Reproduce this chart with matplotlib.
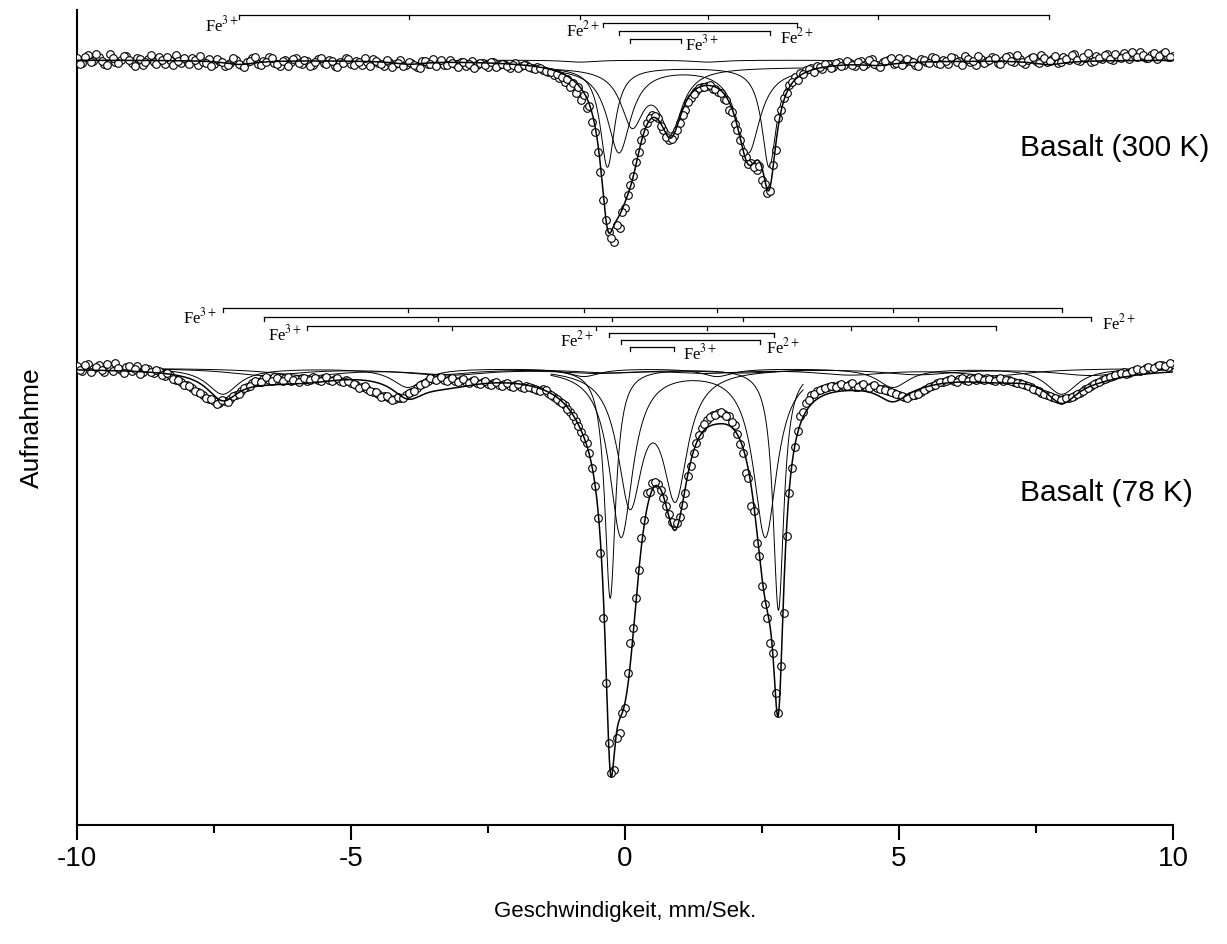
import numpy as np
import matplotlib
matplotlib.use("Agg")
import matplotlib.pyplot as plt

plt.rcParams['font.family'] = ['Liberation Sans', 'DejaVu Sans']
plt.rcParams['mathtext.fontset'] = 'stix'

# ---------------- data ----------------
# velocity channels, mm/s (two interleaved halves of the folded spectrum)
velocity_a = np.round(np.arange(-10.0, 10.0001, 0.1), 2)
velocity_b = np.round(np.arange(-9.95, 9.9601, 0.1), 2)

# relative transmission (%) - Basalt 300 K
trans_300K_a = [
    100.02, 99.97, 100.05, 99.99, 100.03, 99.96, 100.06, 99.98, 100.00, 100.04,
    99.97, 100.02, 99.95, 100.01, 99.98, 100.03, 99.96, 100.00, 100.05, 99.97,
    99.99, 100.02, 99.95, 99.98, 100.01, 99.96, 99.99, 99.94, 99.97, 100.00,
    99.95, 99.98, 100.02, 99.96, 99.99, 100.03, 99.97, 99.94, 100.00, 99.98,
    100.02, 99.96, 99.99, 99.95, 100.01, 99.97, 100.00, 99.94, 99.98, 100.02,
    99.96, 99.99, 99.95, 99.98, 100.01, 99.97, 99.94, 99.98, 99.96, 100.00,
    99.95, 99.97, 99.93, 99.99, 99.96, 100.01, 99.97, 99.95, 100.00, 99.96,
    99.98, 99.94, 99.99, 99.95, 99.97, 99.93, 99.98, 99.95, 99.96, 99.92,
    99.97, 99.94, 99.95, 99.92, 99.93, 99.90, 99.88, 99.85, 99.82, 99.78,
    99.73, 99.67, 99.60, 99.52, 99.38, 99.08, 98.60, 98.28, 98.18, 98.32,
    98.52, 98.75, 98.98, 99.20, 99.37, 99.45, 99.42, 99.30, 99.20, 99.24,
    99.37, 99.50, 99.62, 99.69, 99.73, 99.74, 99.71, 99.68, 99.61, 99.50,
    99.36, 99.20, 99.03, 98.97, 98.90, 98.80, 98.67, 98.95, 99.42, 99.62,
    99.75, 99.83, 99.87, 99.90, 99.92, 99.94, 99.91, 99.96, 99.93, 99.98,
    99.95, 99.97, 99.94, 99.99, 99.96, 100.01, 99.95, 99.98, 100.00, 99.96,
    100.02, 99.97, 99.99, 99.95, 100.01, 99.98, 100.03, 99.97, 100.00, 99.96,
    100.02, 99.99, 100.04, 99.98, 99.95, 100.01, 99.99, 100.03, 99.97, 100.00,
    100.04, 99.98, 100.01, 99.96, 100.02, 99.99, 100.05, 99.98, 100.01, 99.97,
    100.03, 100.00, 100.06, 99.99, 100.02, 99.98, 100.04, 100.01, 100.06, 100.00,
    100.03, 100.07, 100.01, 100.04, 100.08, 100.02, 100.05, 100.01, 100.06, 100.03,
    100.04,
]
trans_300K_b = [
    99.96, 100.03, 99.98, 100.06, 99.99, 99.95, 100.02, 99.97, 100.04, 100.00,
    99.94, 100.01, 99.98, 100.05, 99.96, 100.00, 100.03, 99.95, 99.99, 100.02,
    99.96, 100.00, 100.04, 99.97, 99.94, 100.01, 99.98, 99.95, 100.02, 99.96,
    99.93, 99.99, 100.03, 99.95, 99.98, 100.02, 99.96, 99.99, 99.94, 100.01,
    99.97, 100.00, 99.94, 99.98, 100.02, 99.96, 99.99, 99.93, 99.97, 100.01,
    99.95, 99.98, 100.02, 99.94, 99.99, 99.96, 100.00, 99.93, 99.97, 99.94,
    99.98, 99.95, 99.92, 99.99, 99.96, 99.94, 100.00, 99.95, 99.97, 99.93,
    99.98, 99.96, 99.92, 99.97, 99.95, 99.98, 99.93, 99.96, 99.94, 99.95,
    99.92, 99.95, 99.93, 99.91, 99.92, 99.89, 99.88, 99.86, 99.83, 99.81,
    99.77, 99.73, 99.65, 99.54, 99.28, 98.88, 98.40, 98.22, 98.35, 98.48,
    98.65, 98.84, 99.08, 99.28, 99.42, 99.44, 99.34, 99.23, 99.21, 99.30,
    99.45, 99.58, 99.66, 99.72, 99.73, 99.75, 99.71, 99.67, 99.60, 99.48,
    99.30, 99.08, 98.96, 98.93, 98.94, 98.76, 98.69, 99.10, 99.50, 99.67,
    99.78, 99.80, 99.86, 99.91, 99.88, 99.93, 99.96, 99.92, 99.97, 99.94,
    99.99, 99.95, 99.98, 99.94, 100.00, 99.96, 99.93, 99.99, 100.02, 99.97,
    99.95, 100.01, 99.98, 99.94, 100.00, 99.97, 100.02, 99.96, 99.99, 100.03,
    99.98, 99.95, 100.01, 99.99, 100.04, 99.97, 100.00, 100.02, 99.96, 100.03,
    99.99, 100.05, 99.98, 100.00, 100.03, 99.97, 100.02, 99.99, 100.04, 99.98,
    100.01, 100.05, 100.00, 100.03, 100.07, 99.99, 100.02, 100.05, 100.01, 100.06,
    100.02, 100.04, 100.08, 100.03, 100.05, 100.02, 100.07, 100.04, 100.08, 100.03,
]

# relative transmission (%) - Basalt 78 K
trans_78K_a = [
    100.02, 99.97, 100.04, 99.99, 100.03, 99.96, 100.00, 100.05, 99.98, 100.01,
    99.97, 100.02, 99.96, 99.99, 99.95, 99.97, 99.92, 99.93, 99.88, 99.86,
    99.83, 99.80, 99.76, 99.73, 99.69, 99.67, 99.65, 99.67, 99.69, 99.73,
    99.77, 99.81, 99.85, 99.86, 99.89, 99.88, 99.91, 99.88, 99.90, 99.87,
    99.89, 99.90, 99.87, 99.91, 99.88, 99.90, 99.88, 99.89, 99.87, 99.88,
    99.85, 99.83, 99.81, 99.79, 99.76, 99.74, 99.72, 99.70, 99.69, 99.70,
    99.73, 99.76, 99.80, 99.84, 99.87, 99.89, 99.90, 99.88, 99.89, 99.87,
    99.88, 99.86, 99.87, 99.85, 99.86, 99.84, 99.85, 99.83, 99.84, 99.82,
    99.83, 99.81, 99.82, 99.80, 99.78, 99.79, 99.75, 99.71, 99.67, 99.63,
    99.56, 99.47, 99.36, 99.25, 99.00, 98.50, 97.50, 96.25, 95.98, 96.35,
    96.60, 97.25, 97.70, 98.30, 98.75, 98.85, 98.84, 98.70, 98.54, 98.45,
    98.51, 98.75, 99.02, 99.25, 99.40, 99.48, 99.53, 99.55, 99.54, 99.52,
    99.43, 99.24, 98.95, 98.62, 98.25, 97.82, 97.50, 97.15, 96.55, 97.55,
    98.75, 99.21, 99.52, 99.65, 99.73, 99.77, 99.79, 99.81, 99.82, 99.83,
    99.82, 99.84, 99.81, 99.83, 99.81, 99.82, 99.80, 99.79, 99.77, 99.75,
    99.73, 99.71, 99.72, 99.73, 99.76, 99.79, 99.82, 99.85, 99.86, 99.88,
    99.87, 99.89, 99.88, 99.90, 99.88, 99.89, 99.90, 99.88, 99.89, 99.87,
    99.88, 99.86, 99.85, 99.83, 99.81, 99.78, 99.75, 99.73, 99.71, 99.69,
    99.69, 99.70, 99.72, 99.75, 99.79, 99.82, 99.85, 99.88, 99.90, 99.92,
    99.94, 99.96, 99.95, 99.98, 99.97, 100.00, 99.99, 100.02, 100.03, 100.01,
    100.04,
]
trans_78K_b = [
    99.98, 100.03, 99.96, 100.01, 99.98, 100.04, 99.97, 100.00, 99.95, 100.02,
    99.99, 99.94, 100.00, 99.96, 99.98, 99.93, 99.95, 99.89, 99.88, 99.83,
    99.82, 99.77, 99.75, 99.70, 99.69, 99.64, 99.68, 99.66, 99.72, 99.74,
    99.80, 99.82, 99.87, 99.86, 99.91, 99.87, 99.90, 99.87, 99.91, 99.88,
    99.86, 99.90, 99.88, 99.90, 99.87, 99.91, 99.87, 99.90, 99.86, 99.87,
    99.84, 99.80, 99.82, 99.77, 99.76, 99.71, 99.72, 99.68, 99.71, 99.70,
    99.75, 99.77, 99.83, 99.85, 99.90, 99.88, 99.91, 99.87, 99.90, 99.86,
    99.89, 99.85, 99.88, 99.84, 99.87, 99.83, 99.86, 99.82, 99.85, 99.81,
    99.84, 99.80, 99.81, 99.79, 99.77, 99.78, 99.73, 99.69, 99.65, 99.59,
    99.52, 99.42, 99.30, 99.15, 98.82, 98.15, 96.85, 95.95, 96.30, 96.55,
    96.95, 97.40, 97.98, 98.48, 98.76, 98.86, 98.78, 98.62, 98.46, 98.45,
    98.63, 98.92, 99.15, 99.33, 99.44, 99.51, 99.53, 99.56, 99.52, 99.46,
    99.34, 99.15, 98.90, 98.57, 98.12, 97.64, 97.25, 96.75, 97.02, 98.32,
    99.00, 99.37, 99.56, 99.68, 99.74, 99.78, 99.80, 99.82, 99.81, 99.84,
    99.82, 99.85, 99.81, 99.84, 99.80, 99.83, 99.79, 99.78, 99.76, 99.74,
    99.72, 99.70, 99.73, 99.74, 99.78, 99.81, 99.83, 99.86, 99.87, 99.89,
    99.86, 99.90, 99.87, 99.89, 99.91, 99.88, 99.89, 99.87, 99.90, 99.88,
    99.87, 99.85, 99.84, 99.82, 99.79, 99.77, 99.74, 99.72, 99.70, 99.68,
    99.70, 99.71, 99.74, 99.77, 99.80, 99.84, 99.86, 99.89, 99.91, 99.93,
    99.95, 99.94, 99.97, 99.99, 99.98, 100.01, 100.00, 100.03, 100.02, 100.05,
]

# fitted subspectra: line positions (mm/s), depths (%), half widths (mm/s)
# 300 K
olv_300_pos, olv_300_depth, olv_300_hw = [-0.32, 2.63], [1.00, 1.00], 0.16
pyx_300_pos, pyx_300_depth, pyx_300_hw = [-0.11, 2.25], [0.85, 0.85], 0.26
fe3d_300_pos, fe3d_300_depth, fe3d_300_hw = [0.13, 0.84], [0.55, 0.60], 0.25
fe3s_300_pos = [-7.04, -3.94, -0.82, 1.51, 4.62, 7.74]
fe3s_300_depth = [0.04, 0.03, 0.02, 0.02, 0.03, 0.04]
fe3s_300_hw = 0.35
# 78 K
olv_78_pos, olv_78_depth, olv_78_hw = [-0.27, 2.80], [2.30, 2.42], 0.12
pyx_78_pos, pyx_78_depth, pyx_78_hw = [-0.07, 2.56], [1.68, 1.68], 0.26
fe3d_78_pos, fe3d_78_depth, fe3d_78_hw = [0.09, 0.92], [1.30, 1.22], 0.27
sxa_78_pos = [-7.34, -3.96, -0.75, 1.68, 4.89, 7.97]
sxa_78_depth = [0.26, 0.19, 0.08, 0.08, 0.19, 0.26]
sxa_78_hw = 0.35
sxb_78_pos = [-6.59, -3.41, -0.24, 2.15, 5.35, 8.50]
sxb_78_depth = [0.07, 0.06, 0.04, 0.04, 0.06, 0.07]
sxb_78_hw = 0.8
sxc_78_pos = [-5.80, -3.16, -0.53, 1.50, 4.12, 6.77]
sxc_78_depth = [0.07, 0.06, 0.04, 0.04, 0.06, 0.07]
sxc_78_hw = 0.8

# stick diagrams (line positions, mm/s)
bar_300 = [
    ([-7.04, -3.94, -0.82, 1.51, 4.62, 7.74], r'Fe$^{3+}$'),
    ([-0.40, 3.14], r'Fe$^{2+}$'),
    ([-0.11, 2.65], r'Fe$^{2+}$'),
    ([0.09, 1.02], r'Fe$^{3+}$'),
]
bar_78 = [
    ([-7.34, -3.96, -0.75, 1.68, 4.89, 7.97], r'Fe$^{3+}$'),
    ([-6.59, -3.41, -0.24, 2.15, 5.35, 8.50], r'Fe$^{2+}$'),
    ([-5.80, -3.16, -0.53, 1.50, 4.12, 6.77], r'Fe$^{3+}$'),
    ([-0.29, 2.72], r'Fe$^{2+}$'),
    ([-0.07, 2.46], r'Fe$^{2+}$'),
    ([0.09, 0.89], r'Fe$^{3+}$'),
]
xticks = [-10, -5, 0, 5, 10]

# ---------------- figure ----------------
W, H = 1227, 944
fig = plt.figure(figsize=(W / 100, H / 100), dpi=100)
ax_l, ax_r, ax_t, ax_b = 77, 1173, 10, 825
ax = fig.add_axes([ax_l / W, 1 - ax_b / H, (ax_r - ax_l) / W, (ax_b - ax_t) / H])

PX = 0.01            # data units per pixel
BASE_PX = 368        # pixel row of 100 % for the 78 K spectrum
def py(p):
    return 100 + (BASE_PX - p) * PX

OFF_300 = py(60) - 100
ax.set_xlim(-10, 10)
ax.set_ylim(py(ax_b), py(ax_t))

def lor(v, c, d, g):
    return d / (1 + ((v - c) / g) ** 2)

def lines(v, pos, depth, g):
    return sum(lor(v, c, d, g) for c, d in zip(pos, depth))

vf = np.linspace(-10, 10, 4001)
vd = np.linspace(-1.35, 3.25, 1200)

comps_300 = [
    (olv_300_pos, olv_300_depth, olv_300_hw, True),
    (pyx_300_pos, pyx_300_depth, pyx_300_hw, True),
    (fe3d_300_pos, fe3d_300_depth, fe3d_300_hw, True),
    (fe3s_300_pos, fe3s_300_depth, fe3s_300_hw, False),
]
comps_78 = [
    (olv_78_pos, olv_78_depth, olv_78_hw, True),
    (pyx_78_pos, pyx_78_depth, pyx_78_hw, True),
    (fe3d_78_pos, fe3d_78_depth, fe3d_78_hw, True),
    (sxa_78_pos, sxa_78_depth, sxa_78_hw, False),
    (sxb_78_pos, sxb_78_depth, sxb_78_hw, False),
    (sxc_78_pos, sxc_78_depth, sxc_78_hw, False),
]

def draw_spectrum(trans_a, trans_b, comps, off, comp_shift):
    env = 100 + off - sum(lines(vf, p, d, g) for p, d, g, _ in comps)
    for p, d, g, limited in comps:
        vv = vd if limited else vf
        shift = comp_shift if limited else 0.0
        ax.plot(vv, 100 + off - shift - lines(vv, p, d, g),
                color='black', lw=0.7, zorder=2)
    for vel, tr in ((velocity_a, trans_a), (velocity_b, trans_b)):
        ax.plot(vel, np.array(tr) + off, linestyle='none', marker='o',
                ms=5.5, mfc='white', mec='black', mew=0.8, zorder=3)
    ax.plot(vf, env, color='black', lw=1.1, zorder=4)

draw_spectrum(trans_300K_a, trans_300K_b, comps_300, OFF_300, 0.07)
draw_spectrum(trans_78K_a, trans_78K_b, comps_78, 0.0, 0.0)

def vx(p):
    return (p - 625) / 54.8

def draw_bar(pos, y):
    ax.plot([pos[0], pos[-1]], [y, y], color='black', lw=0.9, zorder=5)
    for p in pos:
        ax.plot([p, p], [y, y - 0.035], color='black', lw=0.9, zorder=5)

fe_font = dict(fontsize=12, ha='center', va='center', family='Liberation Serif')

rows_300 = [15, 23, 31, 39]
for (pos, lab), r in zip(bar_300, rows_300):
    draw_bar(pos, py(r))
lab_300 = [(222, 25), (583, 30), (797, 37), (702, 44)]
for (pos, lab), (lx, ly) in zip(bar_300, lab_300):
    ax.text(vx(lx), py(ly), lab, **fe_font)

rows_78 = [308, 317, 326, 333, 340, 347]
for (pos, lab), r in zip(bar_78, rows_78):
    draw_bar(pos, py(r))
lab_78 = [(200, 317), (1119, 323), (285, 334), (577, 340), (783, 347), (700, 353)]
for (pos, lab), (lx, ly) in zip(bar_78, lab_78):
    ax.text(vx(lx), py(ly), lab, **fe_font)

ax.text(vx(1020), py(148), 'Basalt (300 K)', fontsize=21.5, ha='left', va='center')
ax.text(vx(1020), py(493), 'Basalt (78 K)', fontsize=21.5, ha='left', va='center')

for s in ['top', 'right']:
    ax.spines[s].set_visible(False)
for s in ['left', 'bottom']:
    ax.spines[s].set_linewidth(1.5)
ax.set_yticks([])
ax.set_xticks(xticks)
ax.set_xticklabels([str(t) for t in xticks])
ax.set_xticks([-7.5, -2.5, 2.5, 7.5], minor=True)
ax.tick_params(axis='x', which='major', direction='out', length=11, width=1.5,
               labelsize=20, pad=4)
ax.tick_params(axis='x', which='minor', direction='out', length=6, width=1.5)

fig.text(625 / W, 1 - 912 / H, 'Geschwindigkeit, mm/Sek.', fontsize=16,
         ha='center', va='center')
fig.text(32 / W, 1 - 428 / H, 'Aufnahme', fontsize=19, rotation=90,
         ha='center', va='center')

fig.savefig('out.png', dpi=100)
